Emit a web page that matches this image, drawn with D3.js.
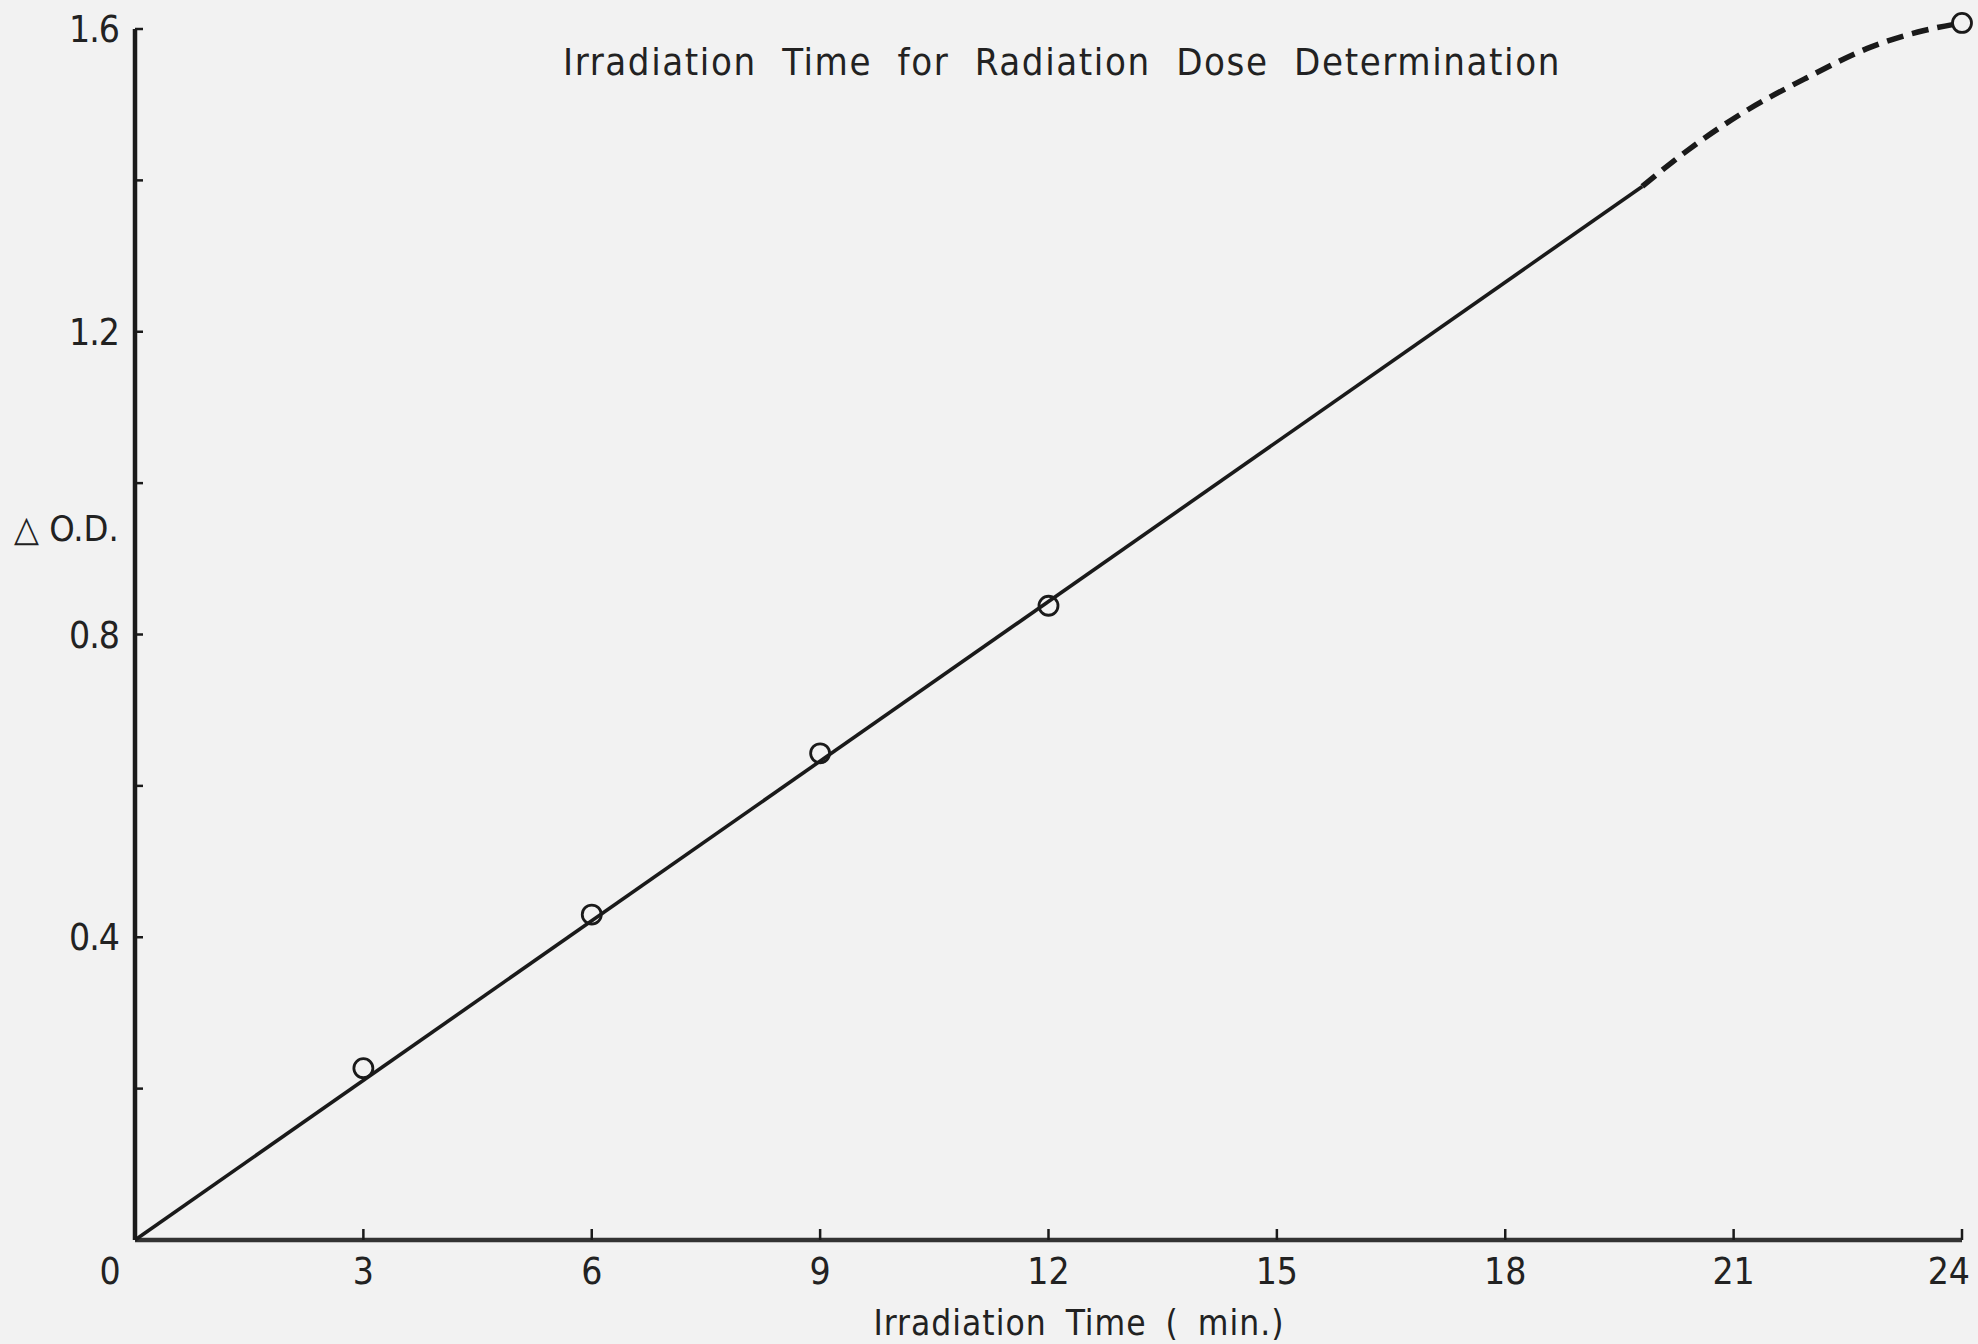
<!DOCTYPE html>
<html>
<head>
<meta charset="utf-8">
<script src="https://cdn.jsdelivr.net/npm/d3@7"></script>
<style>
  body { margin: 0; background: #f2f2f2; }
  text { font-family: "DejaVu Sans Condensed", "Liberation Sans Narrow", "DejaVu Sans", sans-serif; fill: #222; }
</style>
</head>
<body>
<svg id="chart"></svg>
<script>
// data
const timeMin = [3, 6, 9, 12, 24]
const deltaOD = [0.227, 0.43, 0.643, 0.838, 1.608]
// fitted straight line and the dashed bend at the top
const fitX = [0, 19.8]
const fitY = [0, 1.392]
const bendX = [19.8, 20.4, 21.1, 21.95, 22.8, 23.42, 24]
const bendY = [1.392, 1.44, 1.488, 1.535, 1.576, 1.596, 1.608]
const xTicks = [0, 3, 6, 9, 12, 15, 18, 21, 24]
const yTicks = [0.4, 0.8, 1.2, 1.6]
const yMinor = [0.2, 0.6, 1.0, 1.4]

const width = 1978
const height = 1344
const margin = { left: 135, right: 16, top: 29, bottom: 104 }

const svg = d3.select('svg#chart').attr('width', width).attr('height', height)

const xScale = d3.scaleLinear().domain([0, 24]).range([margin.left, width - margin.right])
const yScale = d3.scaleLinear().domain([0, 1.6]).range([height - margin.bottom, margin.top])

// axis lines
svg.append('line')
  .attr('x1', xScale(0)).attr('x2', xScale(0))
  .attr('y1', yScale(0)).attr('y2', yScale(1.6))
  .attr('stroke', '#1a1a1a').attr('stroke-width', 4.5)
svg.append('line')
  .attr('x1', xScale(0)).attr('x2', xScale(24))
  .attr('y1', yScale(0)).attr('y2', yScale(0))
  .attr('stroke', '#333').attr('stroke-width', 4.5)

// ticks point inward
svg.selectAll('line.xtick').data(xTicks.filter(d => d > 0)).enter().append('line')
  .attr('class', 'xtick')
  .attr('x1', d => xScale(d)).attr('x2', d => xScale(d))
  .attr('y1', yScale(0)).attr('y2', yScale(0) - 11)
  .attr('stroke', '#1a1a1a').attr('stroke-width', 2.5)
svg.selectAll('line.ytick').data(yTicks.concat(yMinor)).enter().append('line')
  .attr('class', 'ytick')
  .attr('x1', xScale(0)).attr('x2', xScale(0) + 8)
  .attr('y1', d => yScale(d)).attr('y2', d => yScale(d))
  .attr('stroke', '#1a1a1a').attr('stroke-width', 2.5)

// tick labels
svg.selectAll('text.xlab').data(xTicks).enter().append('text')
  .attr('class', 'xlab')
  .attr('x', d => d == 0 ? xScale(d) - 25 : xScale(d))
  .attr('y', yScale(0) + 44)
  .attr('text-anchor', d => d == 24 ? 'end' : 'middle')
  .attr('dx', d => d == 24 ? 8 : 0)
  .style('font-size', '37px')
  .text(d => d)
svg.selectAll('text.ylab').data(yTicks).enter().append('text')
  .attr('class', 'ylab')
  .attr('x', xScale(0) - 16)
  .attr('y', d => yScale(d) + 13)
  .attr('text-anchor', 'end')
  .style('font-size', '37px')
  .attr('letter-spacing', -1)
  .text(d => d.toFixed(1))

svg.append('text')
  .attr('x', 14).attr('y', 541)
  .style('font-size', '36px')
  .text('△ O.D.')

svg.append('text')
  .attr('x', 1079).attr('y', 1335)
  .attr('text-anchor', 'middle')
  .style('font-size', '35px')
  .attr('letter-spacing', 1)
  .attr('word-spacing', 8)
  .text('Irradiation  Time  ( min.)')

svg.append('text')
  .attr('x', 1062).attr('y', 75)
  .attr('text-anchor', 'middle')
  .style('font-size', '38px')
  .attr('letter-spacing', 1.6)
  .attr('word-spacing', 13)
  .text('Irradiation Time for Radiation  Dose  Determination')

// fitted line
const line = d3.line().x(d => xScale(d[0])).y(d => yScale(d[1]))
svg.append('path')
  .datum(d3.zip(fitX, fitY))
  .attr('d', line)
  .attr('fill', 'none').attr('stroke', '#1a1a1a').attr('stroke-width', 3.6)

svg.append('path')
  .datum(d3.zip(bendX, bendY))
  .attr('d', line.curve(d3.curveMonotoneX))
  .attr('fill', 'none').attr('stroke', '#1a1a1a').attr('stroke-width', 5.5)
  .attr('stroke-dasharray', '17 9')

// measured points
svg.selectAll('circle').data(d3.zip(timeMin, deltaOD)).enter().append('circle')
  .attr('cx', d => xScale(d[0]))
  .attr('cy', d => yScale(d[1]))
  .attr('r', 9.5)
  .attr('fill', 'none')
  .attr('stroke', '#1a1a1a')
  .attr('stroke-width', 2.8)
</script>
</body>
</html>
